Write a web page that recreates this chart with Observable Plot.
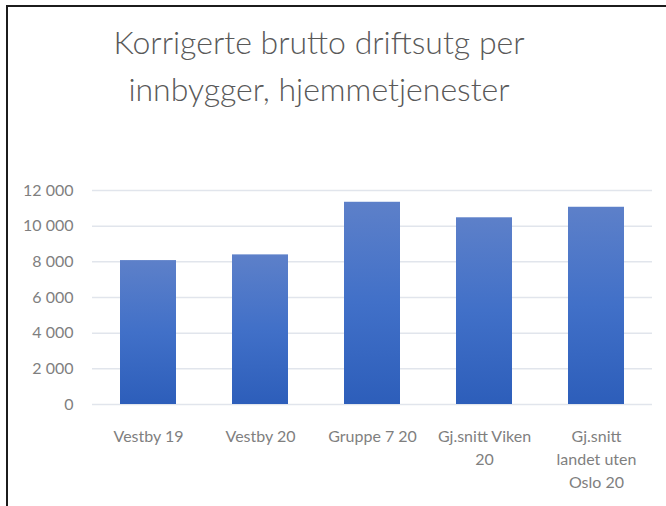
<!DOCTYPE html>
<html><head><meta charset="utf-8">
<script src="https://cdn.jsdelivr.net/npm/d3@7"></script>
<script src="https://cdn.jsdelivr.net/npm/@observablehq/plot@0.6"></script>
<style>
html,body{margin:0;padding:0;background:#fff;}
#wrap{position:relative;width:666px;height:506px;overflow:hidden;background:#fff;}
#frame{position:absolute;left:6px;top:5px;width:700px;height:600px;border-left:2px solid #1c1c1c;border-top:2px solid #1c1c1c;z-index:2;pointer-events:none;}
#title{position:absolute;left:0;top:18px;width:638px;text-align:center;font-family:Lato,sans-serif;font-weight:300;font-size:32px;line-height:47px;color:#595959;}
#chart{position:absolute;left:0;top:150px;z-index:1;}
</style></head><body>
<div id="wrap"><div id="frame"></div><div id="title">Korrigerte brutto driftsutg per<br>innbygger, hjemmetjenester</div><div id="chart"></div></div>
<script>
const categories = ["Vestby 19", "Vestby 20", "Gruppe 7 20", "Gj.snitt Viken 20", "Gj.snitt landet uten Oslo 20"];
const tickLabels = ["Vestby 19", "Vestby 20", "Gruppe 7 20", "Gj.snitt Viken\n20", "Gj.snitt\nlandet uten\nOslo 20"];
const values = [8070, 8390, 11340, 10470, 11060];
const yTicks = [0, 2000, 4000, 6000, 8000, 10000, 12000];

const data = categories.map((c, i) => ({cat: c, value: values[i]}));
const labelMap = new Map(categories.map((c, i) => [c, tickLabels[i]]));
const fmt = d3.formatLocale({thousands: " ", grouping: [3], decimal: ",", currency: ["", ""]}).format(",");

function gradientDefs() {
  const g = d3.create("svg:g");
  const lg = g.append("defs").append("linearGradient")
    .attr("id", "barGrad").attr("x1", 0).attr("y1", 0).attr("x2", 0).attr("y2", 1);
  lg.append("stop").attr("offset", "0%").attr("stop-color", "#5d80c9");
  lg.append("stop").attr("offset", "50%").attr("stop-color", "#4170c8");
  lg.append("stop").attr("offset", "100%").attr("stop-color", "#2d5eba");
  return g.node();
}

const chart = Plot.plot({
  width: 666,
  height: 356,
  marginTop: 40,
  marginBottom: 102,
  marginLeft: 92,
  marginRight: 14,
  style: {fontFamily: "Lato, sans-serif", color: "#7f7f7f", background: "transparent"},
  x: {domain: categories, paddingInner: 0.5, paddingOuter: 0.25, label: null},
  y: {domain: [0, 12000], label: null},
  marks: [
    gradientDefs,
    Plot.gridY(yTicks, {stroke: "#e1e5ec", strokeOpacity: 1, strokeWidth: 1.5}),
    Plot.barY(data, {x: "cat", y: "value", fill: "url(#barGrad)"}),
    Plot.axisX({tickSize: 0, tickPadding: 21, fontSize: 16, lineHeight: 1.44, tickFormat: d => labelMap.get(d), label: null}),
    Plot.axisY(yTicks, {tickSize: 0, tickPadding: 19, fontSize: 16, tickFormat: fmt, label: null})
  ]
});
document.getElementById("chart").appendChild(chart);
</script>
</body></html>
